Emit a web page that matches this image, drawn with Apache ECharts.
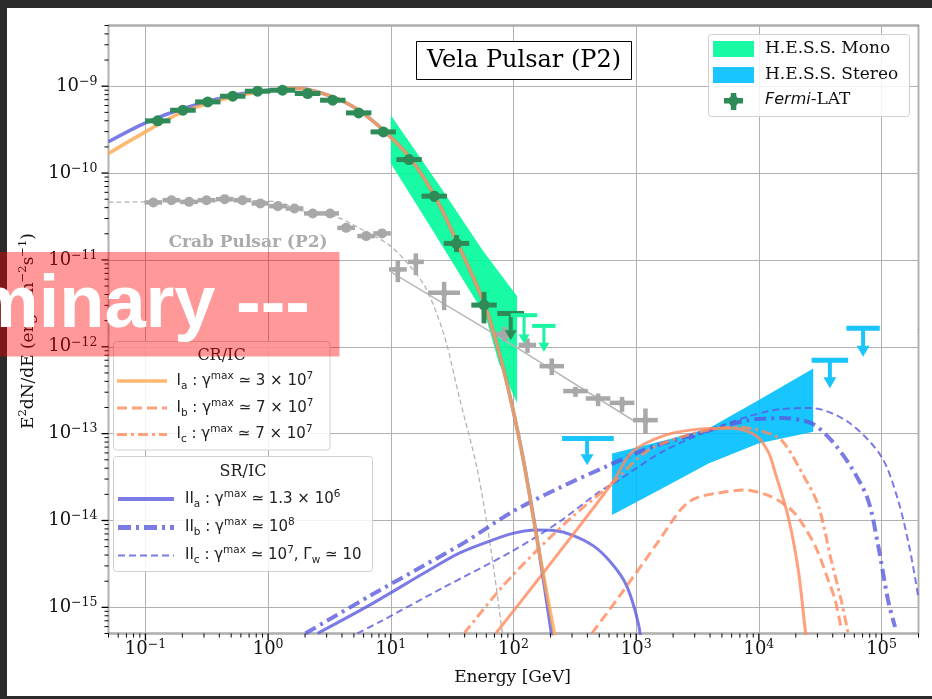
<!DOCTYPE html>
<html><head><meta charset="utf-8">
<script src="https://cdn.jsdelivr.net/npm/echarts/dist/echarts.min.js"></script>
<style>
html,body{margin:0;padding:0;background:#2b2b2b;width:932px;height:699px;overflow:hidden;}
#bg{position:absolute;left:7px;top:8px;width:925px;height:688px;background:#fff;}
#chart{position:absolute;left:0;top:0;width:932px;height:699px;}
</style></head>
<body><div id="bg"></div><div id="chart"></div>
<script>
// ---------------- axes ----------------
const X_MIN = 0.05, X_MAX = 2e5, Y_MIN = 5e-16, Y_MAX = 5e-9;
const xTickExps = [-1, 0, 1, 2, 3, 4, 5];
const yTickExps = [-15, -14, -13, -12, -11, -10, -9];

// ---------------- Fermi-LAT Vela (P2) ----------------
const fermiE   = [0.126, 0.202, 0.322, 0.515, 0.821, 1.31, 2.10, 3.36, 5.47, 8.69, 14.1, 22.6, 34.3, 57.5];
const fermiF   = [3.99e-10, 5.29e-10, 6.60e-10, 7.67e-10, 8.76e-10, 8.99e-10, 8.24e-10, 6.90e-10, 4.93e-10, 2.98e-10, 1.43e-10, 5.42e-11, 1.55e-11, 3.02e-12];
const fermiElo = [0.0992, 0.159, 0.254, 0.406, 0.646, 1.03, 1.65, 2.65, 4.31, 6.84, 11.1, 17.8, 27.0, 45.3];
const fermiEhi = [0.160, 0.257, 0.409, 0.654, 1.04, 1.66, 2.67, 4.27, 6.95, 11.0, 17.9, 28.7, 43.6, 73.0];
const fermiFlo = [3.76e-10, 4.99e-10, 6.23e-10, 7.24e-10, 8.26e-10, 8.48e-10, 7.77e-10, 6.51e-10, 4.65e-10, 2.81e-10, 1.33e-10, 4.70e-11, 1.23e-11, 1.86e-12];
const fermiFhi = [4.23e-10, 5.61e-10, 7.00e-10, 8.13e-10, 9.29e-10, 9.53e-10, 8.73e-10, 7.31e-10, 5.23e-10, 3.16e-10, 1.54e-10, 6.20e-11, 1.93e-11, 4.29e-12];
const fermiUlE = [94.9], fermiUlF = [2.42e-12], fermiUlElo = [73.8], fermiUlEhi = [122], fermiUlTip = [1.19e-12];

// ---------------- Crab pulsar (P2) ----------------
const crabE   = [0.116, 0.163, 0.227, 0.315, 0.443, 0.617, 0.864, 1.20, 1.64, 2.31, 3.20, 4.32, 6.29, 8.48, 11.4, 16.0, 27.2, 84.8, 130, 205, 320, 489, 767, 1190];
const crabF   = [4.59e-11, 4.87e-11, 4.66e-11, 4.87e-11, 5.01e-11, 4.87e-11, 4.47e-11, 4.16e-11, 3.91e-11, 3.43e-11, 3.43e-11, 2.34e-11, 1.88e-11, 2.02e-11, 7.77e-12, 9.50e-12, 4.18e-12, 1.40e-12, 1.05e-12, 5.98e-13, 3.09e-13, 2.54e-13, 2.26e-13, 1.43e-13];
const crabElo = [0.0983, 0.138, 0.192, 0.267, 0.375, 0.523, 0.732, 1.02, 1.39, 1.96, 2.71, 3.66, 5.33, 7.19, 9.66, 13.8, 20.1, 71.9, 110, 163, 254, 388, 609, 944];
const crabEhi = [0.137, 0.192, 0.268, 0.372, 0.523, 0.728, 1.02, 1.42, 1.94, 2.73, 3.78, 5.10, 7.42, 10.0, 13.5, 18.6, 36.7, 100, 153, 258, 403, 616, 966, 1500];
const crabFlo = [4.41e-11, 4.68e-11, 4.47e-11, 4.68e-11, 4.81e-11, 4.68e-11, 4.29e-11, 3.99e-11, 3.75e-11, 3.29e-11, 3.29e-11, 2.25e-11, 1.80e-11, 1.94e-11, 5.55e-12, 6.68e-12, 2.64e-12, 1.14e-12, 8.51e-13, 4.72e-13, 2.65e-13, 2.07e-13, 1.78e-13, 9.87e-14];
const crabFhi = [4.77e-11, 5.06e-11, 4.85e-11, 5.06e-11, 5.21e-11, 5.06e-11, 4.65e-11, 4.33e-11, 4.07e-11, 3.57e-11, 3.57e-11, 2.43e-11, 1.96e-11, 2.10e-11, 9.94e-12, 1.19e-11, 5.59e-12, 1.70e-12, 1.25e-12, 7.34e-13, 3.46e-13, 2.90e-13, 2.65e-13, 1.95e-13];
const crabFitE = [0.05, 0.109, 0.277, 0.707, 1.24, 1.80, 3.58, 5.55, 9.72, 14.1, 19.3, 27.2, 36.1, 50.8, 65.6, 81.1];
const crabFitF = [4.62e-11, 4.68e-11, 4.81e-11, 4.81e-11, 4.62e-11, 3.74e-11, 3.13e-11, 2.32e-11, 1.48e-11, 8.71e-12, 4.73e-12, 1.36e-12, 2.65e-13, 3.80e-14, 4.56e-15, 5.02e-16];
const crabPlE = [10.0, 104, 985];
const crabPlF = [7.29e-12, 9.98e-13, 1.37e-13];

// ---------------- H.E.S.S. ----------------
const monoE = [10.0, 24.8, 55.8, 107, 107, 76.2, 59.4, 36.1, 21.9, 10.0];
const monoF = [4.64e-10, 7.25e-11, 1.30e-11, 3.83e-12, 2.25e-13, 6.43e-13, 2.21e-12, 6.99e-12, 2.20e-11, 1.29e-10];
const stereoE = [636, 1728, 3885, 9906, 27745, 27745, 9906, 3885, 1728, 636];
const stereoF = [5.92e-14, 8.41e-14, 1.148e-13, 2.43e-13, 5.63e-13, 1.05e-13, 7.72e-14, 4.54e-14, 2.443e-14, 1.154e-14];
const monoUlE = [122, 177], monoUlF = [2.31e-12, 1.74e-12], monoUlElo = [94.9, 142], monoUlEhi = [156, 220], monoUlTip = [1.09e-12, 8.74e-13];
const hessUlE = [398, 37900, 70700], hessUlF = [8.81e-14, 7.02e-13, 1.63e-12], hessUlElo = [249, 26900, 51700], hessUlEhi = [656, 53400, 96700], hessUlTip = [4.34e-14, 3.32e-13, 7.66e-13];

// ---------------- models ----------------
const crBlueE   = [0.05, 0.1, 0.203, 0.517, 0.996, 1.80, 3.36, 5.47, 8.69, 14.1, 22.6, 34.1, 57.6, 76.2, 97.2, 121.7, 161, 206];
const crBlueF   = [2.29e-10, 3.78e-10, 5.54e-10, 7.88e-10, 8.99e-10, 9.41e-10, 7.53e-10, 5.29e-10, 3.12e-10, 1.54e-10, 5.57e-11, 1.69e-11, 3.18e-12, 8.68e-13, 2.13e-13, 4.58e-14, 4.56e-15, 4.6e-16];
const crOrangeE = [0.05, 0.1, 0.203, 0.517, 0.996, 1.80, 3.36, 5.47, 8.69, 14.1, 22.6, 34.1, 57.6, 76.2, 97.2, 121.7, 161, 218];
const crOrangeF = [1.68e-10, 2.98e-10, 5.06e-10, 7.53e-10, 8.83e-10, 9.41e-10, 7.53e-10, 5.29e-10, 3.12e-10, 1.54e-10, 5.57e-11, 1.69e-11, 3.18e-12, 8.68e-13, 2.13e-13, 4.58e-14, 4.56e-15, 4.6e-16];
const iiaE = [2.53, 6.94, 19.3, 36.1, 67.2, 101, 152, 214, 301, 451, 598, 791, 925, 1048, 1108];
const iiaF = [5.02e-16, 1.09e-15, 2.55e-15, 4.21e-15, 5.95e-15, 7.16e-15, 7.75e-15, 7.65e-15, 6.79e-15, 5.07e-15, 3.50e-15, 2.06e-15, 1.21e-15, 6.25e-16, 3.68e-16];
const iibE = [2.02, 6.94, 17.1, 40.3, 97.8, 234, 562, 1264, 3222, 8214, 15240, 26720, 38860, 56490, 77670, 93650, 112900, 128800];
const iibF = [5.02e-16, 1.385e-15, 2.83e-15, 5.64e-15, 1.26e-14, 2.36e-14, 4.15e-14, 6.81e-14, 1.006e-13, 1.43e-13, 1.51e-13, 1.32e-13, 8.42e-14, 4.12e-14, 1.72e-14, 5.21e-15, 1.21e-15, 5.93e-16];
const iicE = [5.34, 8.06, 26.4, 97.8, 234, 496, 720, 1728, 5976, 15240, 26720, 53420, 99060, 136200, 170500, 198100];
const iicF = [5.02e-16, 6.77e-16, 1.67e-15, 4.44e-15, 9.58e-15, 2.12e-14, 2.92e-14, 6.46e-14, 1.36e-13, 1.92e-13, 1.97e-13, 1.36e-13, 5.51e-14, 1.72e-14, 4.56e-15, 1.385e-15];
const iaE = [71.7, 183, 636, 925, 1728, 3222, 6010, 9366, 11950, 13620, 17370, 20950, 23880, 24800];
const iaF = [5.02e-16, 2.71e-15, 2.69e-14, 6.13e-14, 9.61e-14, 1.127e-13, 1.157e-13, 9.61e-14, 6.13e-14, 3.51e-14, 1.09e-14, 2.69e-15, 5.48e-16, 3.68e-16];
const ibE = [435, 720, 1524, 2216, 2672, 3222, 4405, 7723, 12710, 18480, 23000, 29340, 36730, 41880, 47120];
const ibF = [5.02e-16, 1.31e-15, 5.79e-15, 1.25e-14, 1.63e-14, 1.86e-14, 2.05e-14, 2.24e-14, 1.87e-14, 1.32e-14, 8.85e-15, 4.81e-15, 2.06e-15, 1.21e-15, 5.48e-16];
const icE = [39.6, 81.1, 161, 301, 636, 1264, 3222, 6813, 9906, 15240, 23000, 30460, 38860, 46850, 53420];
const icF = [5.02e-16, 1.73e-15, 4.77e-15, 1.10e-14, 2.67e-14, 6.46e-14, 1.041e-13, 1.189e-13, 1.098e-13, 8.42e-14, 3.33e-14, 1.50e-14, 3.50e-15, 1.21e-15, 5.02e-16];

// ---------------- styles ----------------
const SERIF = 'DejaVu Serif', SANS = 'DejaVu Sans';
const BLUE = '#5a5ae0', CRORANGE = '#ffa64d', ICORANGE = '#ff8a5c';
const FERMI = '#2e8b57', CRAB = '#a8a8a8', MONO = '#00fa9a', STEREO = '#00bfff';

const pairs = (E, F) => E.map((e, i) => [e, F[i]]);

function decadeLabel(exps) {
  return function (v) {
    const l = Math.log10(v), r = Math.round(l);
    if (Math.abs(l - r) > 1e-6 || exps.indexOf(r) < 0) return '';
    return '{b|10}{s|' + (r < 0 ? '\u2212' : '') + Math.abs(r) + '}';
  };
}
const labelRich = {
  b: { fontFamily: SERIF, fontSize: 18, color: '#111', lineHeight: 22, verticalAlign: 'middle' },
  s: { fontFamily: SERIF, fontSize: 12.5, color: '#111', lineHeight: 12, verticalAlign: 'top' }
};

function lineSeries(E, F, color, width, type, z, opacity, smooth) {
  return {
    type: 'line', data: pairs(E, F), showSymbol: false, symbol: 'none',
    smooth: smooth === undefined ? 0.3 : smooth, silent: true, animation: false, z: z, clip: true,
    lineStyle: { color: color, width: width, type: type, opacity: opacity, cap: 'butt' }
  };
}

function errSeries(E, F, Elo, Ehi, Flo, Fhi, color, bw, rFn, z) {
  return {
    type: 'custom', silent: true, animation: false, z: z, clip: false,
    encode: { x: 0, y: 1 },
    data: E.map((e, i) => [e, F[i], Elo[i], Ehi[i], Flo[i], Fhi[i]]),
    renderItem: function (params, api) {
      const c = api.coord([api.value(0), api.value(1)]);
      const l = api.coord([api.value(2), api.value(1)]);
      const h = api.coord([api.value(3), api.value(1)]);
      const lo = api.coord([api.value(0), api.value(4)]);
      const hi = api.coord([api.value(0), api.value(5)]);
      return { type: 'group', children: [
        { type: 'rect', shape: { x: l[0], y: c[1] - bw / 2, width: h[0] - l[0], height: bw }, style: { fill: color } },
        { type: 'rect', shape: { x: c[0] - bw / 2, y: hi[1], width: bw, height: lo[1] - hi[1] }, style: { fill: color } },
        { type: 'circle', shape: { cx: c[0], cy: c[1], r: rFn(params.dataIndex) }, style: { fill: color } }
      ] };
    }
  };
}

function ulSeries(E, F, Elo, Ehi, Tip, color, bw, sw, aw, ah, z) {
  return {
    type: 'custom', silent: true, animation: false, z: z, clip: false,
    encode: { x: 0, y: 1 },
    data: E.map((e, i) => [e, F[i], Elo[i], Ehi[i], Tip[i]]),
    renderItem: function (params, api) {
      const c = api.coord([api.value(0), api.value(1)]);
      const l = api.coord([api.value(2), api.value(1)]);
      const h = api.coord([api.value(3), api.value(1)]);
      const t = api.coord([api.value(0), api.value(4)]);
      return { type: 'group', children: [
        { type: 'rect', shape: { x: l[0], y: c[1] - bw / 2, width: h[0] - l[0], height: bw }, style: { fill: color } },
        { type: 'rect', shape: { x: c[0] - sw / 2, y: c[1], width: sw, height: t[1] - ah - c[1] + 0.5 }, style: { fill: color } },
        { type: 'polygon', shape: { points: [[c[0] - aw / 2, t[1] - ah], [c[0] + aw / 2, t[1] - ah], [c[0], t[1]]] }, style: { fill: color } }
      ] };
    }
  };
}

function bandSeries(E, F, color, opacity, z) {
  return {
    type: 'custom', silent: true, animation: false, z: z, clip: true,
    encode: { x: 0, y: 1 },
    data: [[E[0], F[0]]],
    renderItem: function (params, api) {
      return { type: 'polygon', shape: { points: E.map((e, i) => api.coord([e, F[i]])) },
               style: { fill: color, opacity: opacity } };
    }
  };
}

// axis ticks (major at decades, minor at 2..9 x decade), outward
const tickData = [];
for (let n = -2; n <= 5; n++) for (let k = 1; k <= 9; k++) {
  const v = k * Math.pow(10, n);
  if (v >= X_MIN * 0.999 && v <= X_MAX * 1.001) tickData.push([v, Y_MIN, k === 1 ? 1 : 0, 0]);
}
for (let n = -16; n <= -9; n++) for (let k = 1; k <= 9; k++) {
  const v = k * Math.pow(10, n);
  if (v >= Y_MIN * 0.999 && v <= Y_MAX * 1.001) tickData.push([X_MIN, v, k === 1 ? 1 : 0, 1]);
}
const tickSeries = {
  type: 'custom', silent: true, animation: false, z: 12, clip: false,
  encode: { x: 0, y: 1 }, data: tickData,
  renderItem: function (params, api) {
    const p = api.coord([api.value(0), api.value(1)]);
    const major = api.value(2) === 1, len = major ? 7 : 4;
    const st = { stroke: '#000', lineWidth: major ? 1.3 : 1 };
    if (api.value(3) === 0) return { type: 'line', shape: { x1: p[0], y1: p[1], x2: p[0], y2: p[1] + len }, style: st };
    return { type: 'line', shape: { x1: p[0] - len, y1: p[1], x2: p[0], y2: p[1] }, style: st };
  }
};

const series = [
  bandSeries(monoE, monoF, MONO, 0.9, 3),
  bandSeries(stereoE, stereoF, STEREO, 0.9, 3),
  lineSeries(crabFitE, crabFitF, '#b4b4b4', 1.3, [5, 3], 4, 1, 0.3),
  lineSeries(crabPlE, crabPlF, '#b8b8b8', 1.6, 'solid', 4, 1, false),
  errSeries(crabE, crabF, crabElo, crabEhi, crabFlo, crabFhi, CRAB, 4.5, i => (i < 14 || i === 17) ? 5 : 3.5, 5),
  lineSeries(iiaE, iiaF, BLUE, 3, 'solid', 6, 0.8),
  lineSeries(iibE, iibF, BLUE, 4, [12, 5, 3, 5], 6, 0.8),
  lineSeries(iicE, iicF, BLUE, 2, [7, 4], 6, 0.8),
  lineSeries(iaE, iaF, ICORANGE, 3, 'solid', 6, 0.8),
  lineSeries(ibE, ibF, ICORANGE, 3, [10, 5], 6, 0.8),
  lineSeries(icE, icF, ICORANGE, 3, [10, 4, 3, 4], 6, 0.8),
  lineSeries(crBlueE, crBlueF, BLUE, 3.5, 'solid', 7, 0.8),
  lineSeries(crOrangeE, crOrangeF, CRORANGE, 3.5, 'solid', 7, 0.8),
  errSeries(fermiE, fermiF, fermiElo, fermiEhi, fermiFlo, fermiFhi, FERMI, 5, () => 5.5, 8),
  ulSeries(fermiUlE, fermiUlF, fermiUlElo, fermiUlEhi, fermiUlTip, FERMI, 5, 4, 12, 10, 8),
  ulSeries(monoUlE, monoUlF, monoUlElo, monoUlEhi, monoUlTip, '#19f5a0', 4, 3, 11, 9, 9),
  ulSeries(hessUlE, hessUlF, hessUlElo, hessUlEhi, hessUlTip, '#19c5fb', 5, 4, 13, 11, 9),
  tickSeries
];

// ---------------- graphics (legends, labels, watermark) ----------------
const G = [];
// title box
G.push({ type: 'rect', z: 20, shape: { x: 416.5, y: 41.5, width: 215, height: 38 }, style: { fill: '#fff', stroke: '#000', lineWidth: 1 } });
G.push({ type: 'text', z: 21, x: 524, y: 61, style: { text: 'Vela Pulsar (P2)', font: '24px "DejaVu Serif"', fill: '#000', align: 'center', verticalAlign: 'middle' } });
// Crab label
G.push({ type: 'text', z: 21, x: 248, y: 243, style: { text: 'Crab Pulsar (P2)', font: 'bold 17px "DejaVu Serif"', fill: '#ababab', align: 'center', verticalAlign: 'middle' } });
// top-right legend
G.push({ type: 'rect', z: 20, shape: { x: 708.5, y: 34.5, width: 201, height: 82, r: 3 }, style: { fill: 'rgba(255,255,255,0.85)', stroke: '#d0d0d0', lineWidth: 1 } });
G.push({ type: 'rect', z: 21, shape: { x: 713, y: 41, width: 41, height: 16 }, style: { fill: MONO, opacity: 0.9 } });
G.push({ type: 'rect', z: 21, shape: { x: 713, y: 67, width: 41, height: 16 }, style: { fill: STEREO, opacity: 0.9 } });
G.push({ type: 'rect', z: 21, shape: { x: 724, y: 98, width: 19, height: 5.5 }, style: { fill: FERMI } });
G.push({ type: 'rect', z: 21, shape: { x: 730.8, y: 93, width: 5.5, height: 17 }, style: { fill: FERMI } });
G.push({ type: 'circle', z: 21, shape: { cx: 733.5, cy: 100.8, r: 5.2 }, style: { fill: FERMI } });
G.push({ type: 'text', z: 21, x: 765, y: 49, style: { text: 'H.E.S.S. Mono', font: '17px "DejaVu Serif"', fill: '#111', verticalAlign: 'middle' } });
G.push({ type: 'text', z: 21, x: 765, y: 74.5, style: { text: 'H.E.S.S. Stereo', font: '17px "DejaVu Serif"', fill: '#111', verticalAlign: 'middle' } });
G.push({ type: 'text', z: 21, x: 765, y: 100, style: { text: '{i|Fermi}{n|-LAT}', verticalAlign: 'middle',
  rich: { i: { fontFamily: SANS, fontStyle: 'italic', fontSize: 16, fill: '#111' }, n: { fontFamily: SERIF, fontSize: 17, fill: '#111' } } } });

// model legend helper
const mRich = {
  n: { fontFamily: SANS, fontSize: 15, fill: '#222', lineHeight: 21, verticalAlign: 'middle' },
  sb: { fontFamily: SANS, fontSize: 10.5, fill: '#222', lineHeight: 11, verticalAlign: 'bottom' },
  sp: { fontFamily: SANS, fontSize: 10.5, fill: '#222', lineHeight: 11, verticalAlign: 'top' }
};
function legLine(x1, x2, y, color, width, dash, opacity) {
  G.push({ type: 'line', z: 21, shape: { x1: x1, y1: y, x2: x2, y2: y },
    style: { stroke: color, lineWidth: width, lineDash: dash, opacity: opacity } });
}
function legText(x, y, t) {
  G.push({ type: 'text', z: 21, x: x, y: y, style: { text: t, rich: mRich, verticalAlign: 'middle' } });
}
// CR/IC
G.push({ type: 'rect', z: 20, shape: { x: 113.5, y: 341.5, width: 216.5, height: 108.5, r: 3 }, style: { fill: 'rgba(255,255,255,0.85)', stroke: '#d0d0d0', lineWidth: 1 } });
G.push({ type: 'text', z: 21, x: 221.5, y: 356, style: { text: 'CR/IC', font: '16px "DejaVu Serif"', fill: '#222', align: 'center', verticalAlign: 'middle' } });
legLine(117, 167, 381, CRORANGE, 3.5, null, 0.8);
legLine(117, 167, 408, ICORANGE, 3, [10, 5], 0.8);
legLine(117, 167, 434.5, ICORANGE, 3, [10, 4, 3, 4], 0.8);
legText(176.5, 381, '{n|I}{sb|a}{n| : γ}{sp|max}{n| ≃ 3 × 10}{sp|7}');
legText(176.5, 408, '{n|I}{sb|b}{n| : γ}{sp|max}{n| ≃ 7 × 10}{sp|7}');
legText(176.5, 434.5, '{n|I}{sb|c}{n| : γ}{sp|max}{n| ≃ 7 × 10}{sp|7}');
// SR/IC
G.push({ type: 'rect', z: 20, shape: { x: 113.5, y: 456.5, width: 259, height: 115, r: 3 }, style: { fill: 'rgba(255,255,255,0.85)', stroke: '#d0d0d0', lineWidth: 1 } });
G.push({ type: 'text', z: 21, x: 243, y: 471.5, style: { text: 'SR/IC', font: '16px "DejaVu Serif"', fill: '#222', align: 'center', verticalAlign: 'middle' } });
legLine(118, 174, 499, BLUE, 4, null, 0.8);
legLine(118, 174, 527.5, BLUE, 5, [13, 5, 3, 5], 0.8);
legLine(118, 174, 555.5, BLUE, 2.2, [7, 4], 0.8);
legText(185, 499, '{n|II}{sb|a}{n| : γ}{sp|max}{n| ≃ 1.3 × 10}{sp|6}');
legText(185, 527.5, '{n|II}{sb|b}{n| : γ}{sp|max}{n| ≃ 10}{sp|8}');
legText(185, 555.5, '{n|II}{sb|c}{n| : γ}{sp|max}{n| ≃ 10}{sp|7}{n|, Γ}{sb|w}{n| ≃ 10}');
// axis titles
G.push({ type: 'text', z: 21, x: 512.5, y: 678, style: { text: 'Energy [GeV]', font: '17px "DejaVu Serif"', fill: '#111', align: 'center', verticalAlign: 'middle' } });
G.push({ type: 'text', z: 21, x: 28.5, y: 331, rotation: Math.PI / 2, style: {
  text: '{n|E}{s|2}{n|dN/dE (erg cm}{s|−2}{n|s}{s|−1}{n|)}', align: 'center', verticalAlign: 'middle',
  rich: { n: { fontFamily: SERIF, fontSize: 17, fill: '#111', lineHeight: 22, verticalAlign: 'middle' },
          s: { fontFamily: SERIF, fontSize: 11.5, fill: '#111', lineHeight: 11, verticalAlign: 'top' } } } });
// watermark
G.push({ type: 'rect', z: 50, shape: { x: 0, y: 252, width: 339.5, height: 104.5 }, style: { fill: 'rgba(255,0,0,0.4)' } });
G.push({ type: 'text', z: 51, x: 310, y: 307, style: { text: '--- Preliminary ---', font: 'bold 74px "Liberation Sans"', fill: '#ffffff', align: 'right', verticalAlign: 'middle' } });

const chart = echarts.init(document.getElementById('chart'), null, { renderer: 'canvas', width: 932, height: 699 });
chart.setOption({
  animation: false,
  backgroundColor: 'transparent',
  grid: { left: 108.5, top: 25.5, width: 810, height: 608, show: true, borderColor: '#000', borderWidth: 1.3, backgroundColor: 'transparent' },
  xAxis: {
    type: 'log', logBase: 10, min: X_MIN, max: X_MAX,
    axisLine: { show: false }, axisTick: { show: false },
    splitLine: { show: true, lineStyle: { color: '#b0b0b0', width: 1 } },
    axisLabel: { formatter: decadeLabel(xTickExps), margin: 5, rich: labelRich }
  },
  yAxis: {
    type: 'log', logBase: 10, min: Y_MIN, max: Y_MAX,
    axisLine: { show: false }, axisTick: { show: false },
    splitLine: { show: true, lineStyle: { color: '#b0b0b0', width: 1 } },
    axisLabel: { formatter: decadeLabel(yTickExps), margin: 11, rich: labelRich }
  },
  series: series,
  graphic: G
});
</script>
</body></html>
